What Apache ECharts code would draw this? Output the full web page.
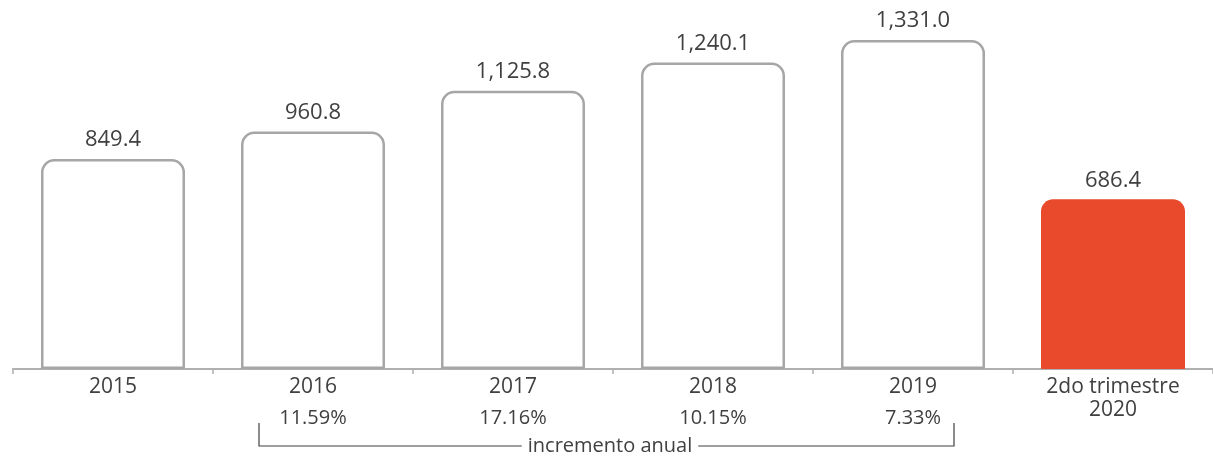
<!DOCTYPE html>
<html>
<head>
<meta charset="utf-8">
<script src="https://cdn.jsdelivr.net/npm/echarts@6/dist/echarts.min.js"></script>
<style>
html,body{margin:0;padding:0;background:#fff;}
#chart{width:1213px;height:457px;}
</style>
</head>
<body>
<div id="chart"></div>
<script>
var categories = ['2015', '2016', '2017', '2018', '2019', '2do trimestre\n2020'];
var values = [849.4, 960.8, 1125.8, 1240.1, 1331.0, 686.4];
var valueLabels = ['849.4', '960.8', '1,125.8', '1,240.1', '1,331.0', '686.4'];
var growthLabels = ['', '11.59%', '17.16%', '10.15%', '7.33%', ''];
var bracketTitle = 'incremento anual';

var textColor = '#404040';
var chart = echarts.init(document.getElementById('chart'));

var barData = values.map(function (v, i) {
  var last = i === values.length - 1;
  return {
    value: v,
    itemStyle: last ? {
      color: '#e84a2b', borderColor: '#e84a2b', borderWidth: 0, borderRadius: [12, 12, 0, 0]
    } : {
      color: '#ffffff', borderColor: '#a6a6a6', borderWidth: 2.5, borderRadius: [12, 12, 0, 0]
    }
  };
});

chart.setOption({
  animation: false,
  textStyle: { fontFamily: 'Open Sans' },
  grid: { left: 13, right: 0, top: 23, bottom: 88 },
  xAxis: [{
    type: 'category',
    data: categories,
    axisLine: { show: true, lineStyle: { color: '#b0b0b0', width: 2 } },
    axisTick: { show: true, alignWithLabel: false, length: 5, lineStyle: { color: '#b0b0b0', width: 1.5 } },
    axisLabel: { color: textColor, fontSize: 21, margin: 7, lineHeight: 23, fontFamily: 'Open Sans' }
  }, {
    type: 'category',
    position: 'bottom',
    offset: 31,
    data: growthLabels,
    axisLine: { show: false },
    axisTick: { show: false },
    axisLabel: { color: textColor, fontSize: 20, margin: 8, fontFamily: 'Open Sans' }
  }],
  yAxis: {
    type: 'value', min: 0, max: 1400, show: false, splitLine: { show: false }
  },
  series: [{
    type: 'bar',
    xAxisIndex: 0,
    barWidth: 144,
    data: barData,
    label: {
      show: true,
      position: 'top',
      distance: 8,
      color: textColor,
      fontSize: 22,
      fontFamily: 'Open Sans',
      formatter: function (p) { return valueLabels[p.dataIndex]; }
    }
  }]
});

function drawBracket() {
  var xL = chart.convertToPixel({ xAxisIndex: 0 }, categories[1]) - 54;
  var xR = chart.convertToPixel({ xAxisIndex: 0 }, categories[4]) + 41;
  var xMid = (chart.convertToPixel({ xAxisIndex: 0 }, categories[2]) + chart.convertToPixel({ xAxisIndex: 0 }, categories[3])) / 2 - 3;
  var yLine = 446, yTop = 423;
  chart.setOption({
    graphic: [{
      type: 'polyline',
      shape: { points: [[xL, yTop], [xL, yLine], [xR, yLine], [xR, yTop]] },
      style: { stroke: '#404040', lineWidth: 1.2, fill: null }
    }, {
      type: 'text',
      x: xMid, y: yLine,
      style: {
        text: bracketTitle, fill: textColor, fontSize: 20, fontFamily: 'Open Sans',
        align: 'center', verticalAlign: 'middle',
        backgroundColor: '#ffffff', padding: [0, 6]
      }
    }]
  });
}
drawBracket();
</script>
</body>
</html>
